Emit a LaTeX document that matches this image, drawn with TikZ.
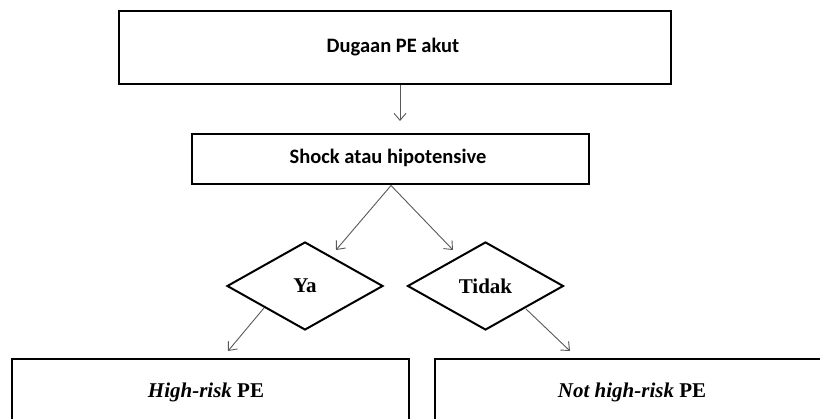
\documentclass[tikz,border=0pt]{standalone}
\usepackage{fontspec}
\setmainfont{Liberation Serif}
\newfontfamily\calibri{Carlito}
\usetikzlibrary{shapes.geometric,arrows.meta}
\tikzset{
  bigbox/.style={draw=black, line width=2.8pt, rectangle, inner sep=0pt},
  dia/.style={draw=black, line width=2pt, diamond, inner sep=0pt},
  arr/.style={draw=black!65, line width=0.9pt, -{Straight Barb[length=7pt,width=12pt,line width=0.9pt]}},
  ctext/.style={font=\calibri\bfseries\fontsize{20.5}{24}\selectfont, inner sep=0pt},
  ttext/.style={font=\bfseries\fontsize{21}{25}\selectfont, inner sep=0pt}
}
\begin{document}
\begin{tikzpicture}[x=1pt,y=-1pt]
\useasboundingbox (0,0) rectangle (820,419);
\clip (0,0) rectangle (820,419);
\fill[white] (0,0) rectangle (820,419);
% boxes
\node[bigbox, minimum width=552pt, minimum height=73pt] (top) at (395,47.5) {};
\node[ctext] (toptxt) at (393,47) {Dugaan PE akut};
\node[bigbox, minimum width=397pt, minimum height=50pt] (shock) at (390.5,159) {};
\node[ctext] (shocktxt) at (388,158) {Shock atau hipotensive};
\node[dia, minimum width=156pt, minimum height=88pt, aspect=1.77] (ya) at (305,286) {};
\node[ttext] (yatxt) at (305,286) {Ya};
\node[dia, minimum width=156pt, minimum height=88pt, aspect=1.77] (tidak) at (485.5,286) {};
\node[ttext] (tidaktxt) at (485.5,286) {Tidak};
\node[bigbox, minimum width=397pt, minimum height=100pt] (hr) at (210.5,409) {};
\node[ttext] (hrtxt) at (206,392) {\textit{High-risk} PE};
\node[bigbox, minimum width=420pt, minimum height=100pt] (nhr) at (645,409) {};
\node[ttext] (nhrtxt) at (632,392) {\textit{Not high-risk} PE};
% arrow ends
\coordinate (s1) at (400,85.5);
\coordinate (e1) at (400,121);
\coordinate (s2) at (391,185.5);
\coordinate (e2) at (336,250);
\coordinate (e3) at (453,250);
\coordinate (s4) at (264,308);
\coordinate (e4) at (228,351);
\coordinate (s5) at (526,309);
\coordinate (e5) at (570,351);
\draw[arr] (s1) -- (e1);
\draw[arr] (s2) -- (e2);
\draw[arr] (s2) -- (e3);
\draw[arr] (s4) -- (e4);
\draw[arr] (s5) -- (e5);
\end{tikzpicture}
\end{document}
